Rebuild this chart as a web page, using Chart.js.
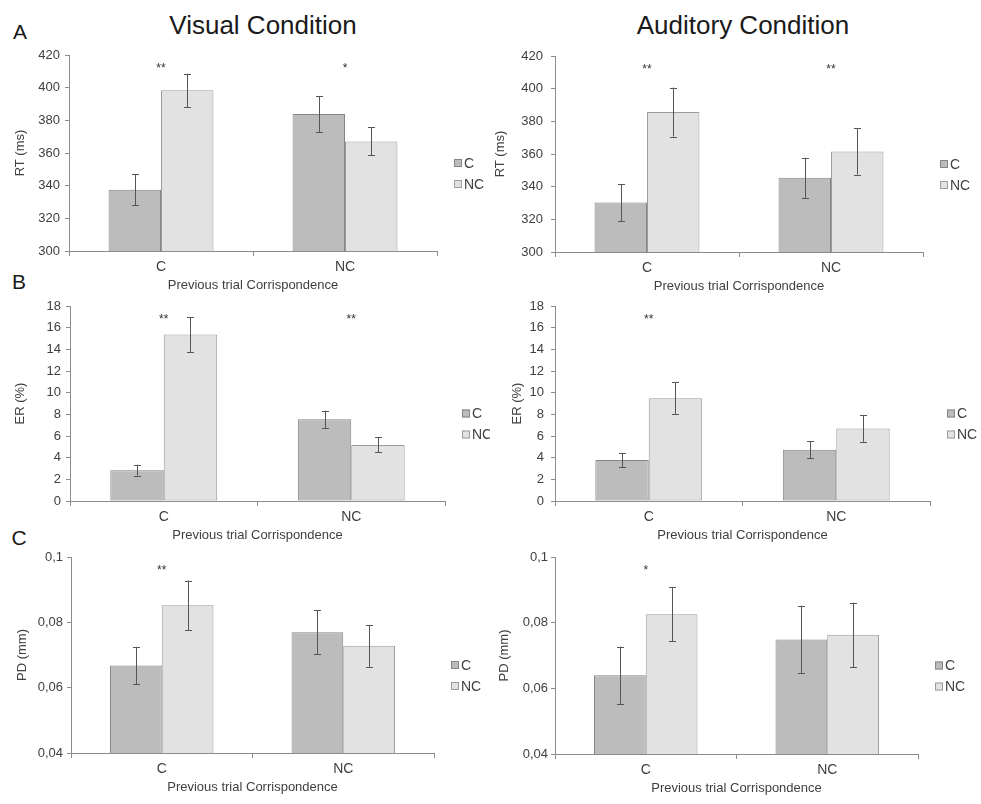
<!DOCTYPE html>
<html><head><meta charset="utf-8">
<script src="https://cdn.jsdelivr.net/npm/chart.js@4.4.0/dist/chart.umd.min.js"></script>
<style>
body{margin:0;background:#fff;width:981px;height:804px;position:relative;overflow:hidden;font-family:"Liberation Sans",Arial,sans-serif;}
.t{position:absolute;color:#1a1a1a;white-space:nowrap;transform:translate(-50%,-50%);line-height:1;}
canvas{position:absolute;}
</style></head><body>
<div class="t" style="left:263px;top:25px;font-size:26px">Visual Condition</div>
<div class="t" style="left:743px;top:25px;font-size:26px">Auditory Condition</div>
<div class="t" style="left:20px;top:31px;font-size:21px">A</div>
<div class="t" style="left:19px;top:281px;font-size:21px">B</div>
<div class="t" style="left:19px;top:537px;font-size:21px">C</div>
<canvas id="c0"></canvas><canvas id="c1"></canvas><canvas id="c2"></canvas>
<canvas id="c3"></canvas><canvas id="c4"></canvas><canvas id="c5"></canvas>
<script>
// ---- data ----
const groups = ['C', 'NC'];            // previous trial correspondence
const seriesNames = ['C', 'NC'];       // current trial
const xTitle = 'Previous trial Corrispondence';

const visRT_C = [337.5, 383.9];  const visRT_NC = [398.4, 367.1];
const visRT_errC = [9.5, 11.0];  const visRT_errNC = [10.2, 8.6];
const audRT_C = [330.3, 345.4];  const audRT_NC = [385.7, 361.6];
const audRT_errC = [11.2, 12.3]; const audRT_errNC = [15.0, 14.2];

const visER_C = [2.85, 7.54];    const visER_NC = [15.36, 5.18];
const visER_errC = [0.5, 0.8];   const visER_errNC = [1.6, 0.7];
const audER_C = [3.78, 4.73];    const audER_NC = [9.49, 6.70];
const audER_errC = [0.66, 0.78]; const audER_errNC = [1.45, 1.23];

const visPD_C = [0.0668, 0.0770];  const visPD_NC = [0.0852, 0.0728];
const visPD_errC = [0.0057, 0.0068]; const visPD_errNC = [0.0076, 0.0064];
const audPD_C = [0.0640, 0.0749];  const audPD_NC = [0.0826, 0.0763];
const audPD_errC = [0.0087, 0.0103]; const audPD_errNC = [0.0083, 0.0098];

const visRT_sig = ['**', '*'];  const audRT_sig = ['**', '**'];
const visER_sig = ['**', '**']; const audER_sig = ['**', ''];
const visPD_sig = ['**', ''];   const audPD_sig = ['*', ''];

const rtTicks = [300, 320, 340, 360, 380, 400, 420];
const rtTickLabels = ['300', '320', '340', '360', '380', '400', '420'];
const erTicks = [0, 2, 4, 6, 8, 10, 12, 14, 16, 18];
const erTickLabels = ['0', '2', '4', '6', '8', '10', '12', '14', '16', '18'];
const pdTicks = [0.04, 0.06, 0.08, 0.1];
const pdTickLabels = ['0,04', '0,06', '0,08', '0,1'];

// ---- styling / layout ----
Chart.defaults.font.family = '"Liberation Sans", Arial, sans-serif';
Chart.defaults.color = '#404040';
const AXIS = '#8c8c8c';
const FILL = ['#bcbcbc', '#e2e2e2'];
const EDGE = ['#858585', '#9c9c9c'];

const panels = [
  {id:'c0', cx:0,   cy:40,  w:490, L:69,  T:55,  R:437, B:251, yt:'RT (ms)', tx:20, tg:5, C:visRT_C, N:visRT_NC, eC:visRT_errC, eN:visRT_errNC, sig:visRT_sig, ticks:rtTicks, tl:rtTickLabels},
  {id:'c1', cx:490, cy:40,  w:491, L:555, T:56,  R:923, B:252, yt:'RT (ms)', tx:10, tg:8, C:audRT_C, N:audRT_NC, eC:audRT_errC, eN:audRT_errNC, sig:audRT_sig, ticks:rtTicks, tl:rtTickLabels},
  {id:'c2', cx:0,   cy:290, w:490, L:70,  T:306, R:445, B:501, yt:'ER (%)',  tx:20, tg:5, C:visER_C, N:visER_NC, eC:visER_errC, eN:visER_errNC, sig:visER_sig, ticks:erTicks, tl:erTickLabels},
  {id:'c3', cx:490, cy:290, w:491, L:555, T:306, R:930, B:501, yt:'ER (%)',  tx:27, tg:7, C:audER_C, N:audER_NC, eC:audER_errC, eN:audER_errNC, sig:audER_sig, ticks:erTicks, tl:erTickLabels},
  {id:'c4', cx:0,   cy:540, w:490, L:71,  T:557, R:434, B:753, yt:'PD (mm)', tx:22, tg:4, C:visPD_C, N:visPD_NC, eC:visPD_errC, eN:visPD_errNC, sig:visPD_sig, ticks:pdTicks, tl:pdTickLabels},
  {id:'c5', cx:490, cy:540, w:491, L:555, T:557, R:918, B:754, yt:'PD (mm)', tx:14, tg:3, C:audPD_C, N:audPD_NC, eC:audPD_errC, eN:audPD_errNC, sig:audPD_sig, ticks:pdTicks, tl:pdTickLabels}
];

const errorBars = {
  id: 'errorBars',
  afterDatasetsDraw(chart) {
    const {ctx, scales: {y}} = chart;
    ctx.save();
    ctx.strokeStyle = '#555555';
    ctx.lineWidth = 1;
    chart.data.datasets.forEach((ds, di) => {
      chart.getDatasetMeta(di).data.forEach((bar, i) => {
        const v = ds.data[i], e = ds.err[i];
        const x = Math.round(bar.x) + 0.5;
        const yt = y.getPixelForValue(v + e), yb = y.getPixelForValue(v - e);
        ctx.beginPath();
        ctx.moveTo(x, yt); ctx.lineTo(x, yb);
        ctx.moveTo(x - 3.5, Math.round(yt) + 0.5); ctx.lineTo(x + 3.5, Math.round(yt) + 0.5);
        ctx.moveTo(x - 3.5, Math.round(yb) + 0.5); ctx.lineTo(x + 3.5, Math.round(yb) + 0.5);
        ctx.stroke();
      });
    });
    ctx.restore();
  }
};

const extras = {
  id: 'extras',
  afterDraw(chart, args, opts) {
    const {ctx, chartArea} = chart;
    ctx.save();
    // significance markers
    ctx.fillStyle = '#333';
    ctx.font = '12px "Liberation Sans", Arial, sans-serif';
    ctx.textAlign = 'center'; ctx.textBaseline = 'middle';
    const m0 = chart.getDatasetMeta(0).data, m1 = chart.getDatasetMeta(1).data;
    opts.sig.forEach((s, i) => {
      if (!s) return;
      ctx.fillText(s, (m0[i].x + m1[i].x) / 2, chartArea.top + 14);
    });
    // legend
    const mid = (chartArea.top + chartArea.bottom) / 2;
    ctx.font = '14px "Liberation Sans", Arial, sans-serif';
    ctx.textAlign = 'left';
    chart.data.datasets.forEach((ds, di) => {
      const yy = mid + 10 + di * 21;
      const xx = chartArea.right + 17;
      ctx.fillStyle = ds.backgroundColor;
      ctx.fillRect(xx, yy - 4, 8, 8);
      ctx.strokeStyle = ds.borderColor; ctx.lineWidth = 1;
      ctx.strokeRect(xx + 0.5, yy - 3.5, 7, 7);
      ctx.fillStyle = '#404040';
      ctx.fillText(ds.label, xx + 10, yy + 1);
    });
    ctx.restore();
  }
};

panels.forEach(p => {
  const cv = document.getElementById(p.id);
  const H = p.B - p.cy + 50;
  cv.width = p.w; cv.height = H;
  cv.style.left = p.cx + 'px'; cv.style.top = p.cy + 'px';
  new Chart(cv, {
    type: 'bar',
    data: {
      labels: groups,
      datasets: [
        {label: seriesNames[0], data: p.C, err: p.eC, backgroundColor: FILL[0], borderColor: EDGE[0], borderWidth: 1, borderSkipped: false},
        {label: seriesNames[1], data: p.N, err: p.eN, backgroundColor: FILL[1], borderColor: EDGE[1], borderWidth: 1, borderSkipped: false}
      ]
    },
    plugins: [errorBars, extras],
    options: {
      responsive: false, animation: false, devicePixelRatio: 1,
      layout: {autoPadding: false, padding: {left: 0, top: p.T - p.cy, right: p.cx + p.w - p.R, bottom: 0}},
      datasets: {bar: {categoryPercentage: 0.57, barPercentage: 1}},
      plugins: {legend: {display: false}, tooltip: {enabled: false}, extras: {sig: p.sig}},
      scales: {
        x: {
          offset: true,
          grid: {offset: true, drawOnChartArea: false, drawTicks: true, tickLength: 5, color: AXIS},
          border: {color: AXIS},
          ticks: {font: {size: 14}, padding: 3, color: '#404040'},
          title: {display: true, text: xTitle, font: {size: 13}, color: '#404040', padding: {top: 0, bottom: 8}},
          afterFit: s => { s.height = 50; }
        },
        y: {
          min: p.ticks[0], max: p.ticks[p.ticks.length - 1],
          afterBuildTicks: s => { s.ticks = p.ticks.map(v => ({value: v})); },
          grid: {drawOnChartArea: false, drawTicks: true, tickLength: 4, color: AXIS},
          border: {color: AXIS},
          ticks: {font: {size: 13}, padding: p.tg, color: '#404040', callback: (v, i) => p.tl[i]},
          title: {display: true, text: p.yt, font: {size: 13}, color: '#404040', padding: {top: p.tx - 7.8, bottom: 0}},
          afterFit: s => { s.width = p.L - p.cx; }
        }
      }
    }
  });
});
</script>
</body></html>
